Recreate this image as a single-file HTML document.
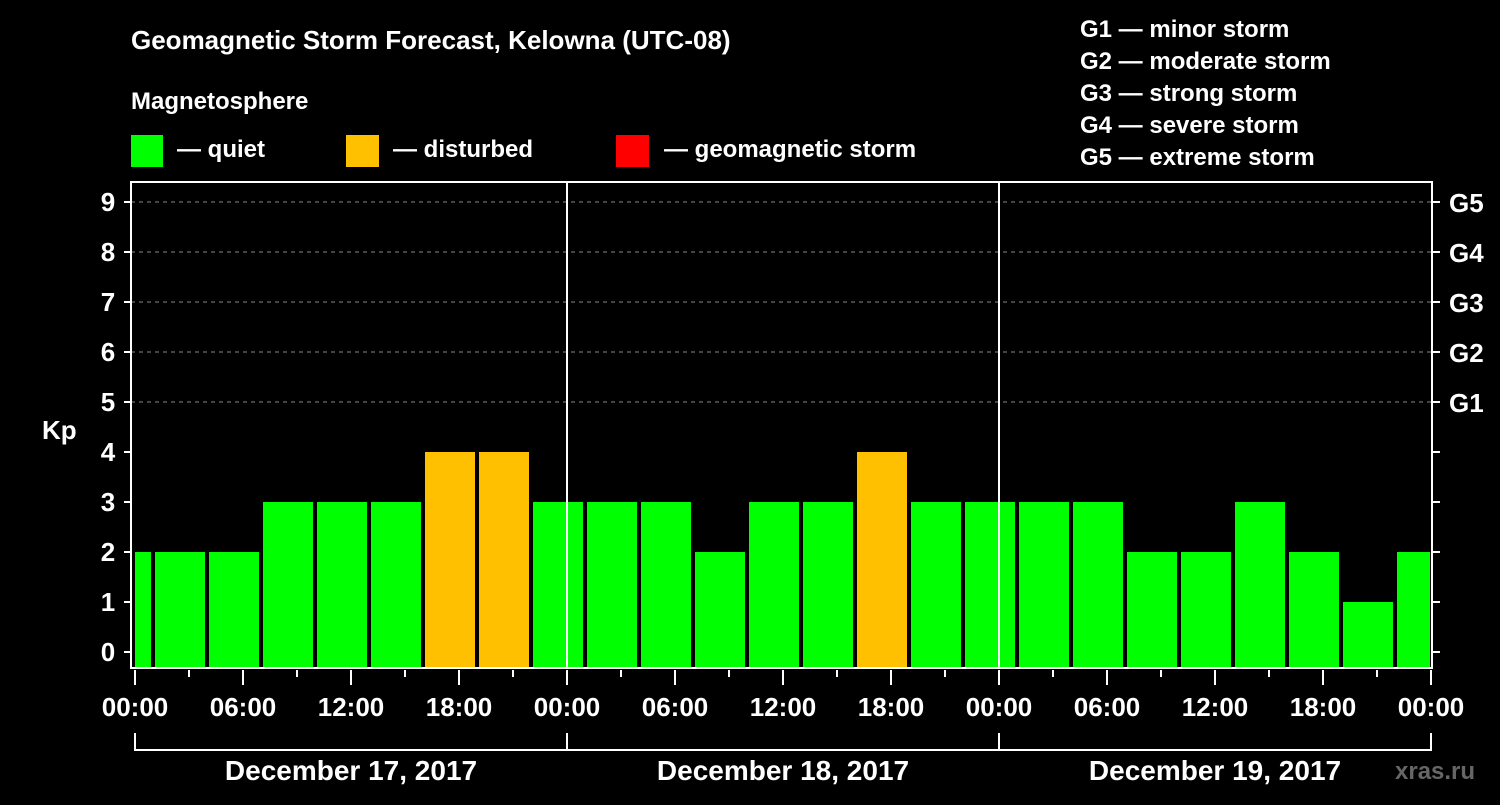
<!DOCTYPE html>
<html><head><meta charset="utf-8"><style>
body{margin:0;background:#000;width:1500px;height:800px;overflow:hidden}
svg{font-family:"Liberation Sans",sans-serif;font-weight:bold}
</style></head><body>
<svg id="chart" width="1500" height="800" viewBox="0 0 1500 800">
<rect width="1500" height="800" fill="#000"/>
<text x="131" y="49" fill="#fff" font-size="26">Geomagnetic Storm Forecast, Kelowna (UTC-08)</text>
<text x="131" y="109" fill="#fff" font-size="24">Magnetosphere</text>
<g><rect x="131" y="135" width="32" height="32" fill="#00ff00"/><text x="177" y="157" fill="#fff" font-size="24">— quiet</text></g>
<g><rect x="346" y="135" width="33" height="32" fill="#ffc000"/><text x="393" y="157" fill="#fff" font-size="24">— disturbed</text></g>
<g><rect x="616" y="135" width="33" height="32" fill="#ff0000"/><text x="664" y="157" fill="#fff" font-size="24">— geomagnetic storm</text></g>
<g fill="#fff" font-size="24">
<text x="1080" y="37">G1 — minor storm</text>
<text x="1080" y="69">G2 — moderate storm</text>
<text x="1080" y="101">G3 — strong storm</text>
<text x="1080" y="133">G4 — severe storm</text>
<text x="1080" y="165">G5 — extreme storm</text>
</g>
<text x="42" y="439" fill="#fff" font-size="26">Kp</text>
<g id="grid"></g><g id="bars"></g><g id="axes"></g>
<text x="1395" y="779" fill="#666" font-size="24">xras.ru</text>
</svg>
<script>
const kpValues=[2,2,2,3,3,3,4,4,3,3,3,2,3,3,4,3,3,3,3,2,2,3,2,1,2];
const barStartHours=[-2,1,4,7,10,13,16,19,22,25,28,31,34,37,40,43,46,49,52,55,58,61,64,67,70];
const dayLabels=["December 17, 2017","December 18, 2017","December 19, 2017"];
const hourLabels=["00:00","06:00","12:00","18:00"];
const gLabels=["G1","G2","G3","G4","G5"];
const NS="http://www.w3.org/2000/svg";
const X0=135,PX_H=18,L=131,R=1432,T=182,B=668;
const xs=h=>X0+h*PX_H, ys=k=>652-k*50;
function mk(tag,attrs,parent){const e=document.createElementNS(NS,tag);for(const k in attrs)e.setAttribute(k,attrs[k]);parent.appendChild(e);return e;}
const grid=document.getElementById('grid'),bars=document.getElementById('bars'),axes=document.getElementById('axes');
for(let k=5;k<=9;k++){const l=mk('line',{x1:L,x2:R,y1:ys(k),y2:ys(k),stroke:'#888','stroke-dasharray':'4,4','stroke-width':1},grid);

}
kpValues.forEach((v,i)=>{const h0=Math.max(barStartHours[i],0),h1=Math.min(barStartHours[i]+3,72);
const x0=xs(h0)+(barStartHours[i]<0?0:2),x1=xs(h1)-(barStartHours[i]+3>72?1:2);
const col=v>=5?'#ff0000':(v>=4?'#ffc000':'#00ff00');
const r=mk('rect',{x:x0,y:ys(v),width:x1-x0,height:B-ys(v),fill:col},bars);

});
for(let d=1;d<3;d++){const l=mk('line',{x1:xs(d*24),x2:xs(d*24),y1:T,y2:B,stroke:'#fff','stroke-width':2},axes);

}
const fr=mk('rect',{x:L,y:T,width:R-L,height:B-T,fill:'none',stroke:'#fff','stroke-width':2},axes);


for(let k=0;k<=9;k++){mk('line',{x1:124,x2:L,y1:ys(k),y2:ys(k),stroke:'#fff','stroke-width':2},axes);
mk('line',{x1:R,x2:1440,y1:ys(k),y2:ys(k),stroke:'#fff','stroke-width':2},axes);
const t=mk('text',{x:108,y:ys(k)+9,fill:'#fff','font-size':26,'text-anchor':'middle'},axes);t.textContent=k;

}
gLabels.forEach((g,i)=>{const t=mk('text',{x:1449,y:ys(i+5)+10,fill:'#fff','font-size':26},axes);t.textContent=g;

});
for(let h=0;h<=72;h+=3){const major=h%6===0;mk('line',{x1:xs(h),x2:xs(h),y1:B+2,y2:major?B+17:B+9,stroke:'#fff','stroke-width':2},axes);
if(major){const t=mk('text',{x:xs(h),y:716,fill:'#fff','font-size':26,'text-anchor':'middle'},axes);t.textContent=hourLabels[(h%24)/6];

}}
mk('path',{d:`M${xs(0)} 733V750H${xs(72)}V733M${xs(24)} 733V750M${xs(48)} 733V750`,fill:'none',stroke:'#fff','stroke-width':2},axes);
dayLabels.forEach((d,i)=>{const t=mk('text',{x:xs(i*24+12),y:780,fill:'#fff','font-size':28,'text-anchor':'middle'},axes);t.textContent=d;

});
</script>
</body></html>
